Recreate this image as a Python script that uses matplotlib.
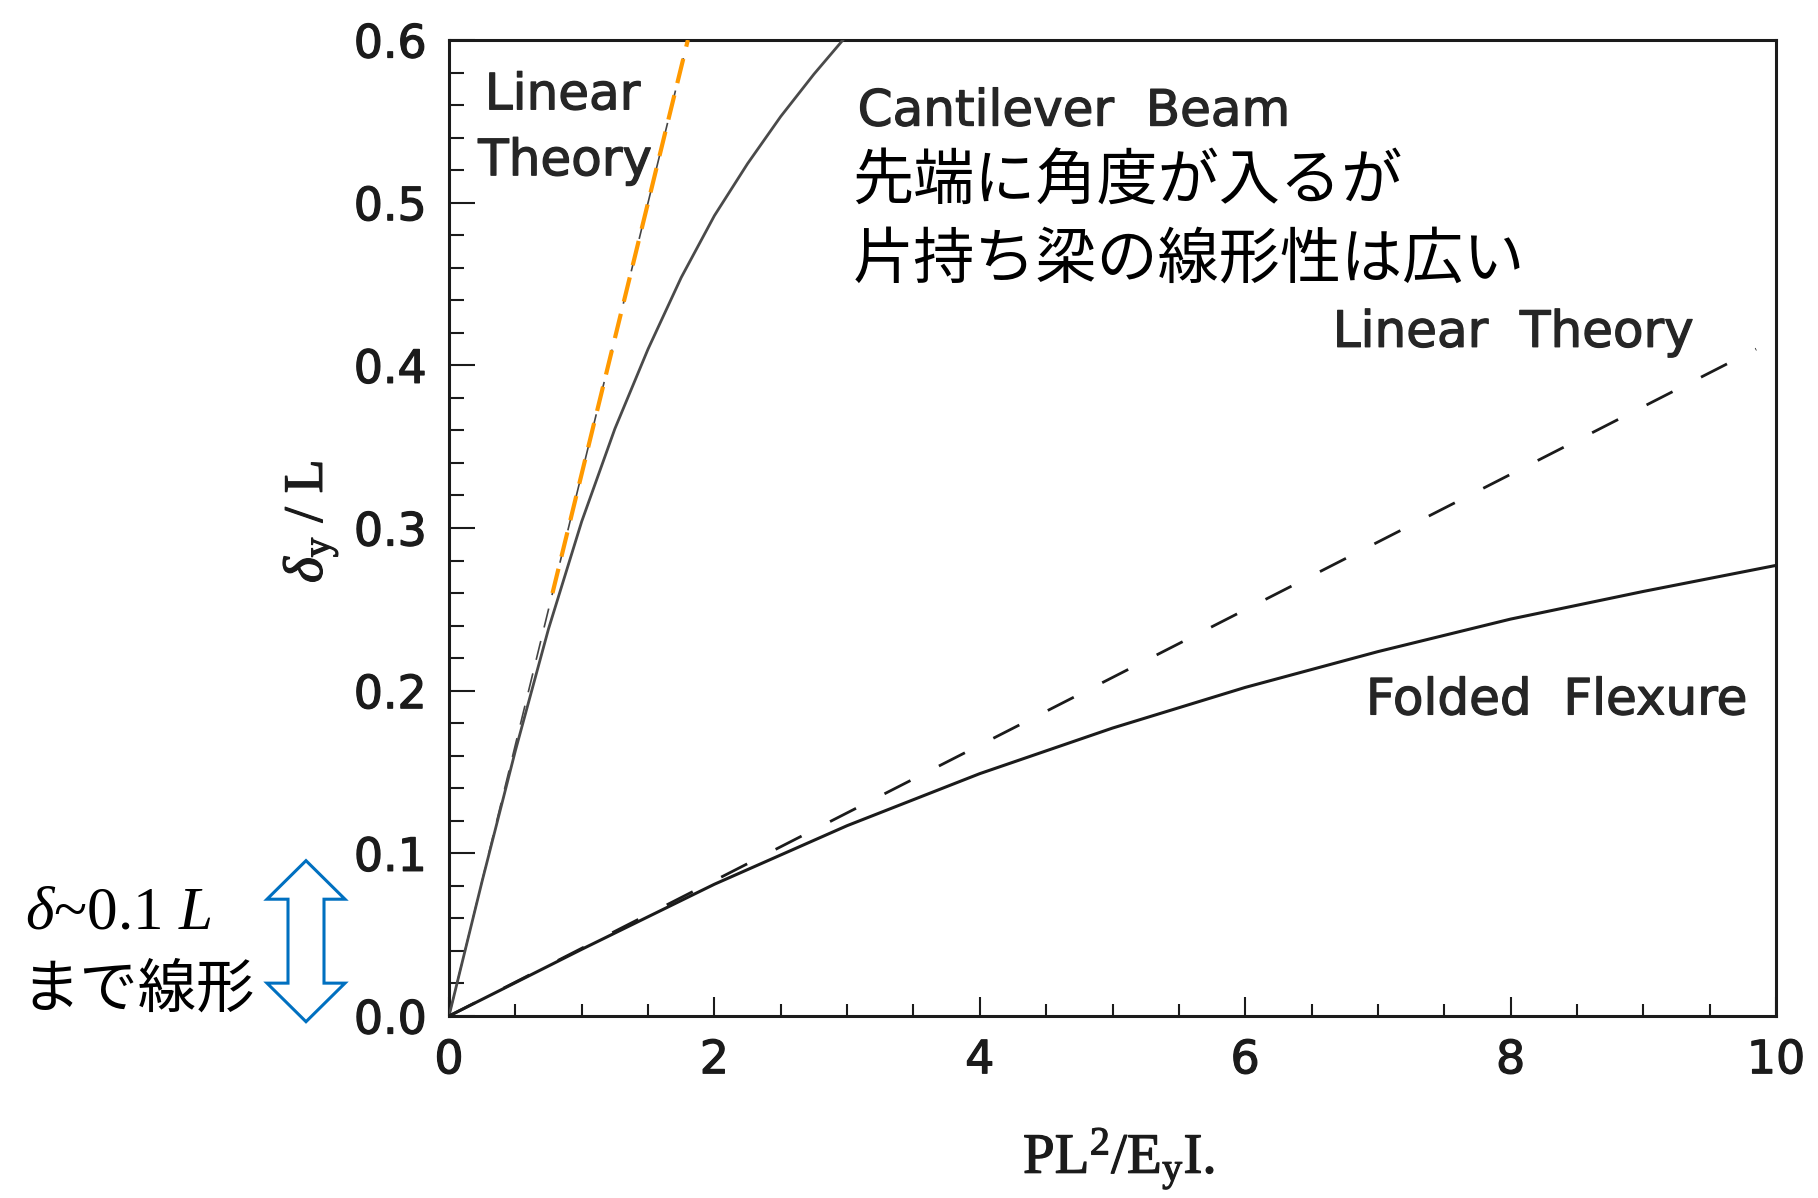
import matplotlib
matplotlib.use("Agg")
import matplotlib.pyplot as plt
import matplotlib.patheffects as pe
from matplotlib.patches import Polygon
from matplotlib import transforms
from matplotlib.ticker import MultipleLocator

# Normalised load PL^2/(E I) against tip deflection delta_y / L
cantilever_load = [0, 0.25, 0.5, 0.75, 1.0, 1.25, 1.5, 1.75, 2.0, 2.25, 2.5, 2.75, 3.0]
cantilever_defl = [0, 0.083, 0.163, 0.238, 0.304, 0.361, 0.410, 0.454, 0.492, 0.524, 0.553, 0.579, 0.603]

folded_load = [0, 1, 2, 3, 4, 5, 6, 7, 8, 9, 10]
folded_defl = [0, 0.041, 0.081, 0.117, 0.149, 0.177, 0.202, 0.224, 0.244, 0.261, 0.277]

# Linear theory: slope 1/3 for the cantilever, 1/24 for the folded flexure
cant_linear_load = [0.0, 1.8]
cant_linear_defl = [0.0, 0.6]
cant_linear_hl_load = [0.78, 1.8]
cant_linear_hl_defl = [0.26, 0.6]
folded_linear_load = [0.0, 9.85]
folded_linear_defl = [0.0, 0.410]

x_ticks = [0, 2, 4, 6, 8, 10]
x_tick_labels = ["0", "2", "4", "6", "8", "10"]
y_ticks = [0.0, 0.1, 0.2, 0.3, 0.4, 0.5, 0.6]
y_tick_labels = ["0.0", "0.1", "0.2", "0.3", "0.4", "0.5", "0.6"]

plt.rcParams["lines.scale_dashes"] = False
plt.rcParams["mathtext.fontset"] = "custom"
plt.rcParams["mathtext.rm"] = "Liberation Serif"
plt.rcParams["mathtext.it"] = "Liberation Serif:italic"
plt.rcParams["font.family"] = ["DejaVu Sans"]

W, H = 1818, 1198
fig = plt.figure(figsize=(W / 100, H / 100), dpi=100)
ax = fig.add_axes([449 / W, 1 - 1016 / H, (1776 - 449) / W, (1016 - 40) / H])

ink = "#1b1b1b"
heavy = [pe.withStroke(linewidth=0.9, foreground=ink)]

ax.plot(cant_linear_load, cant_linear_defl, color="#444444", lw=1.2,
        dashes=(14, 10), zorder=2)
ax.plot(cantilever_load, cantilever_defl, color="#4a4a4a", lw=2.0, zorder=3)
ax.plot(cant_linear_hl_load, cant_linear_hl_defl, color="#ff9900", lw=3.0,
        dashes=(18, 9), zorder=4)
ax.plot(folded_load, folded_defl, color=ink, lw=2.2, zorder=3)
ax.plot(folded_linear_load, folded_linear_defl, color=ink, lw=2.0,
        dashes=(21, 23), zorder=3)

ax.set_xlim(0, 10)
ax.set_ylim(0, 0.6)
ax.set_xticks(x_ticks)
ax.set_xticklabels(x_tick_labels)
ax.set_yticks(y_ticks)
ax.set_yticklabels(y_tick_labels)
ax.xaxis.set_minor_locator(MultipleLocator(0.5))
ax.yaxis.set_minor_locator(MultipleLocator(0.02))
ax.tick_params(axis="both", which="both", direction="in", colors=ink,
               width=1.5, labelsize=33)
ax.tick_params(axis="x", which="major", length=14, pad=16)
ax.tick_params(axis="x", which="minor", length=9)
ax.tick_params(axis="y", which="major", length=19, pad=16)
ax.tick_params(axis="y", which="minor", length=11)
for lbl in ax.get_xticklabels() + ax.get_yticklabels():
    lbl.set_path_effects(heavy)
for s in ax.spines.values():
    s.set_linewidth(2.2)
    s.set_color(ink)

# Curve labels
lab = dict(color="#262626", fontsize=36, va="center", ha="left",
           path_effects=[pe.withStroke(linewidth=0.9, foreground="#262626")])
ax.text(0.27, 0.566, "Linear", **lab)
ax.text(0.22, 0.5255, "Theory", **lab)
ax.text(3.08, 0.556, "Cantilever  Beam", **lab)
ax.text(6.66, 0.420, "Linear  Theory", **lab)
ax.text(6.91, 0.194, "Folded  Flexure", **lab)

jp = dict(family=["Noto Sans CJK JP", "DejaVu Sans"], fontsize=44,
          color="black", va="center", ha="left")
ax.text(3.04, 0.5126, "先端に角度が入るが", **jp)
ax.text(3.04, 0.4646, "片持ち梁の線形性は広い", **jp)

# Axis labels
fig.text(310 / W, 1 - 522 / H, r"$\delta_{\mathrm{y}}$ / L", rotation=90,
         ha="center", va="center", fontsize=40, family="Liberation Serif",
         color=ink, path_effects=heavy)
fig.text(1023 / W, 1 - 1173 / H, r"PL$^{\mathrm{2}}$/E$_{\mathrm{y}}$I.",
         ha="left", va="baseline", fontsize=41, family="Liberation Serif",
         color=ink, path_effects=heavy)

# Small-deflection range note beside the y axis
fig.text(25 / W, 1 - 914 / H, r"$\delta$~0.1 $L$", ha="left", va="center",
         fontsize=44, family="Liberation Serif", color="black")
fig.text(21 / W, 1 - 990 / H, "まで線形", ha="left", va="center",
         fontsize=42, family=["Noto Sans CJK JP", "DejaVu Sans"], color="black")

# Hollow double-headed arrow spanning delta = 0 .. 0.1 L
trans = transforms.blended_transform_factory(fig.transFigure, ax.transData)
cx = 306 / W
hw = 39 / W
sw = 18 / W
y_top, y_bot = 0.0955, -0.0035
head = 0.0237
verts = [
    (cx, y_top), (cx + hw, y_top - head), (cx + sw, y_top - head),
    (cx + sw, y_bot + head), (cx + hw, y_bot + head), (cx, y_bot),
    (cx - hw, y_bot + head), (cx - sw, y_bot + head), (cx - sw, y_top - head),
    (cx - hw, y_top - head),
]
arrow = Polygon(verts, closed=True, transform=trans, facecolor="white",
                edgecolor="#0070c0", lw=2.2, clip_on=False, joinstyle="miter")
fig.add_artist(arrow)

fig.savefig("out.png", dpi=100, facecolor="white")
